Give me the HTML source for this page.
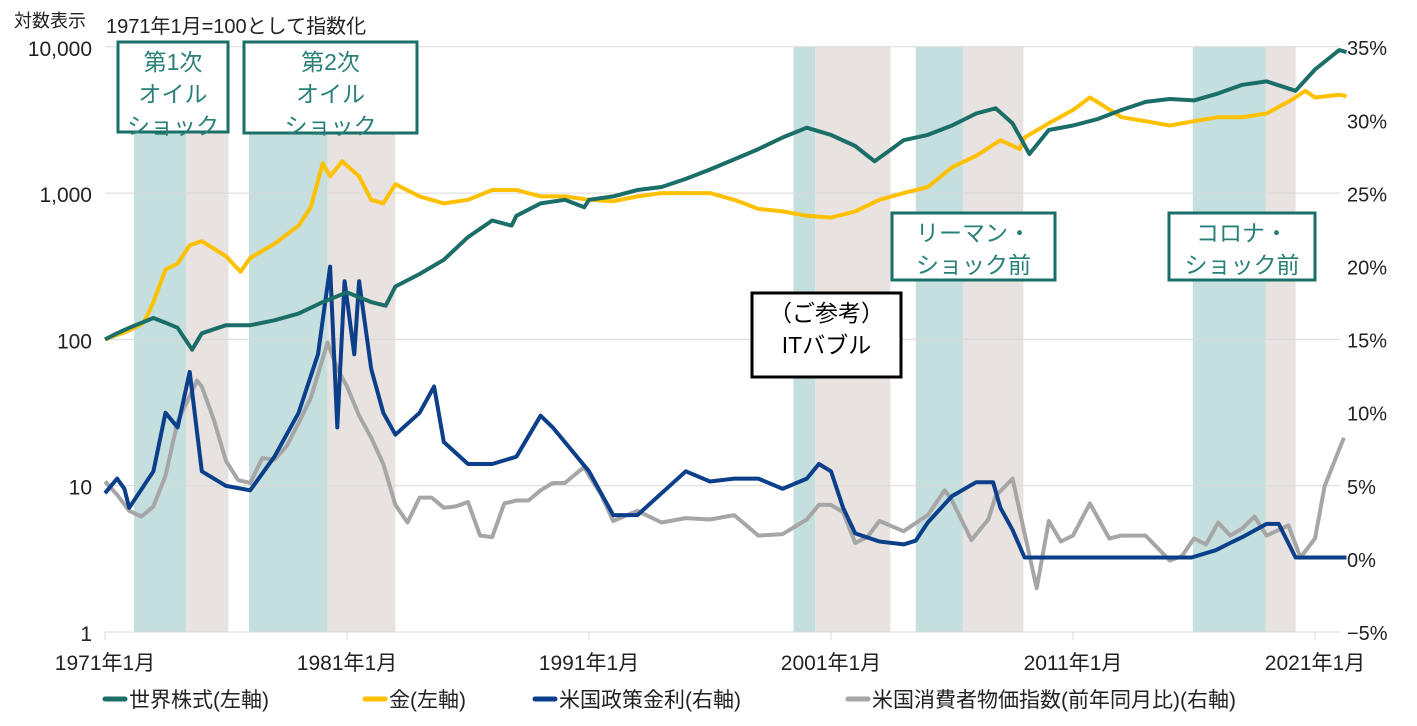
<!DOCTYPE html>
<html><head><meta charset="utf-8"><style>
body{margin:0;background:#fff;}
svg text{font-family:"Liberation Sans","Noto Sans CJK JP",sans-serif;}
</style></head><body>
<svg id="c" width="1417" height="721" viewBox="0 0 1417 721"></svg>
<script>
const bandStarts=[1972.2,1974.35,1976.95,1980.2,1999.45,2000.35,2004.5,2006.45,2015.95,2018.97];
const bandEnds=[1974.35,1976.1,1980.2,1983.0,2000.35,2003.45,2006.45,2008.95,2018.97,2020.2];
const bandKinds=["pre","post","pre","post","pre","post","pre","post","pre","post"];
const eqT=[1971,1971.5,1972,1973,1973.5,1974,1974.6,1975,1976,1977,1978,1979,1980,1981,1982,1982.6,1983,1984,1985,1986,1987,1987.8,1988,1989,1990,1990.8,1991,1992,1993,1994,1995,1996,1997,1998,1999,2000,2001,2002,2002.8,2003.5,2004,2005,2006,2007,2007.8,2008.5,2009.2,2010,2011,2012,2013,2014,2015,2016,2017,2018,2019,2020.2,2021,2022,2022.3];
const eqV=[100,110,120,140,130,120,85,110,125,125,135,150,180,210,180,170,230,280,350,500,650,600,700,850,900,800,900,950,1050,1100,1250,1450,1700,2000,2400,2800,2500,2100,1650,2000,2300,2500,2900,3500,3800,3000,1850,2700,2900,3200,3700,4200,4400,4300,4800,5500,5800,5000,7000,9500,9200];
const gT=[1971,1972,1972.6,1973,1973.5,1974,1974.5,1975,1976,1976.6,1977,1978,1979,1979.5,1980,1980.3,1980.8,1981.5,1982,1982.5,1983,1984,1985,1986,1987,1988,1989,1990,1991,1992,1993,1994,1995,1996,1997,1998,1999,2000,2001,2002,2003,2004,2005,2006,2007,2008,2008.8,2009,2010,2011,2011.7,2012,2013,2014,2015,2016,2017,2018,2019,2020,2020.6,2021,2022,2022.3];
const gV=[100,115,130,180,300,330,440,470,370,290,360,450,600,800,1600,1300,1650,1300,900,850,1150,950,850,900,1050,1050,950,950,900,880,950,1000,1000,1000,900,780,750,700,680,750,900,1000,1100,1500,1800,2300,2000,2400,3000,3700,4500,4200,3300,3100,2900,3100,3300,3300,3500,4300,5000,4500,4700,4600];
const fT=[1971,1971.5,1971.8,1972,1973,1973.5,1974,1974.5,1975,1976,1977,1978,1979,1979.8,1980.3,1980.6,1980.9,1981.3,1981.5,1982,1982.5,1983,1984,1984.6,1985,1986,1987,1988,1989,1989.5,1990,1991,1992,1993,1994,1995,1996,1997,1998,1999,2000,2000.5,2001,2001.5,2002,2003,2004,2004.5,2005,2006,2007,2007.7,2008,2008.5,2009,2015.9,2016.9,2017.5,2018,2019,2019.5,2020.2,2022.3];
const fV=[4.5,5.5,4.8,3.5,6,10,9,12.8,6,5,4.7,7,10,14,20,9,19,14,19,13,10,8.5,10,11.8,8,6.5,6.5,7,9.8,9,8,6,3,3,4.5,6,5.3,5.5,5.5,4.8,5.5,6.5,6,3.5,1.75,1.2,1,1.25,2.5,4.3,5.25,5.25,3.5,2,0.1,0.1,0.6,1.1,1.5,2.4,2.4,0.1,0.1];
const cT=[1971,1971.5,1972,1972.5,1973,1973.5,1974,1974.8,1975,1975.5,1976,1976.5,1977,1977.5,1978,1978.5,1979,1979.5,1980.2,1980.6,1981,1981.5,1982,1982.5,1983,1983.5,1984,1984.5,1985,1985.5,1986,1986.5,1987,1987.5,1988,1988.5,1989,1989.5,1990,1990.8,1991,1991.5,1992,1993,1994,1995,1996,1997,1998,1999,2000,2000.5,2001,2001.5,2002,2002.5,2003,2004,2005,2005.7,2006,2006.8,2007.5,2007.8,2008.5,2009.5,2010,2010.5,2011,2011.7,2012,2012.5,2013,2014,2015,2015.5,2016,2016.5,2017,2017.5,2018,2018.5,2019,2019.9,2020.4,2021,2021.4,2022,2022.2];
const cV=[5.3,4.4,3.3,2.9,3.6,5.7,9.4,12.2,11.8,9.5,6.7,5.4,5.2,6.9,6.8,7.7,9.3,11,14.8,13,11.8,9.8,8.3,6.5,3.7,2.5,4.2,4.2,3.5,3.6,3.9,1.6,1.5,3.8,4,4,4.7,5.2,5.2,6.3,5.7,4.4,2.6,3.3,2.5,2.8,2.7,3,1.6,1.7,2.7,3.7,3.7,3.2,1.1,1.5,2.6,1.9,3,4.7,4,1.3,2.7,4.3,5.5,-2,2.6,1.2,1.6,3.8,2.9,1.4,1.6,1.6,-0.1,0.2,1.4,1,2.5,1.6,2.1,2.9,1.6,2.3,0.1,1.4,5,7.5,8.3];
const leftTicks=["1","10","100","1,000","10,000"];
const rightTicks=["−5%","0%","5%","10%","15%","20%","25%","30%","35%"];
const xTickLabels=["1971年1月","1981年1月","1991年1月","2001年1月","2011年1月","2021年1月"];

const NS="http://www.w3.org/2000/svg",svg=document.getElementById('c');
const X0=105,PX=24.2,Y1=632,DEC=146.3,R0=559,RP=14.62;
const xs=t=>X0+(t-1971)*PX, yl=v=>Y1-Math.log10(v)*DEC, yr=v=>R0-v*RP;
function mk(tag,a,p){const e=document.createElementNS(NS,tag);for(const k in a)e.setAttribute(k,a[k]);(p||svg).appendChild(e);return e;}
const gb=mk('g',{});


bandStarts.forEach((s,i)=>{const r=mk('rect',{x:xs(s),y:47,width:xs(bandEnds[i])-xs(s),height:585,fill:bandKinds[i]=="pre"?"#c5dfdf":"#e8e2e0"},gb);

});
leftTicks.forEach((l,i)=>{const y=Y1-i*DEC;
if(i>0){const g=mk('line',{x1:X0,x2:1340,y1:y,y2:y,stroke:'#d9d9d9','stroke-width':1});}
const t=mk('text',{x:92,y:y+9,'text-anchor':'end','font-size':21,fill:'#222'});t.textContent=l;

});
rightTicks.forEach((l,i)=>{const t=mk('text',{x:1347,y:Y1-i*73.1+8,'font-size':20,fill:'#222'});t.textContent=l;

});
const ax=mk('line',{x1:X0,x2:1340,y1:Y1,y2:Y1,stroke:'#d9d9d9','stroke-width':1});


xTickLabels.forEach((l,i)=>{const x=xs(1971+i*10);mk('line',{x1:x,x2:x,y1:Y1,y2:Y1+8,stroke:'#d9d9d9'});
const t=mk('text',{x:x,y:670,'text-anchor':'middle','font-size':21,fill:'#222'});t.textContent=l;

});
function line(T,V,yf,col,name){const d=T.map((t,i)=>(i?'L':'M')+xs(t).toFixed(1)+','+yf(V[i]).toFixed(1)).join('');
const p=mk('path',{d:d,fill:'none',stroke:col,'stroke-width':4,'stroke-linejoin':'round'});

}
line(cT,cV,yr,'#a6a6a6','cpi-line');
line(fT,fV,yr,'#0b3f8a','fed-rate-line');
line(gT,gV,yl,'#ffc000','gold-line');
line(eqT,eqV,yl,'#1b6e68','world-equity-line');
function box(x,y,w,h,lines,col,tcol,name){const g=mk('g',{});


mk('rect',{x:x,y:y,width:w,height:h,fill:'#fff',stroke:col,'stroke-width':3},g);
lines.forEach((l,i)=>{const t=mk('text',{x:x+w/2,y:y+28+i*32,'text-anchor':'middle','font-size':23,fill:tcol},g);t.textContent=l;});}
box(118,42,110,90,["第1次","オイル","ショック"],'#1a7068','#2a8078','oil-shock-1-label');
box(244,42,173,91,["第2次","オイル","ショック"],'#1a7068','#2a8078','oil-shock-2-label');
box(892,213,163,67,["リーマン・","ショック前"],'#1a7068','#2a8078','lehman-label');
box(1169,213,146,67,["コロナ・","ショック前"],'#1a7068','#2a8078','corona-label');
box(752,293,149,84,["（ご参考）","ITバブル"],'#000','#000','it-bubble-label');
const t1=mk('text',{x:14,y:27,'font-size':18,fill:'#222'});t1.textContent="対数表示";


const t2=mk('text',{x:106,y:33,'font-size':20,fill:'#222'});t2.textContent="1971年1月=100として指数化";


const leg=[["世界株式(左軸)",'#1b6e68',105],["金(左軸)",'#ffc000',365],["米国政策金利(右軸)",'#0b3f8a',535],["米国消費者物価指数(前年同月比)(右軸)",'#a6a6a6',848]];
leg.forEach(l=>{const g=mk('g',{});


mk('line',{x1:l[2],x2:l[2]+20,y1:699,y2:699,stroke:l[1],'stroke-width':5,'stroke-linecap':'round'},g);
const t=mk('text',{x:l[2]+24,y:707,'font-size':21,fill:'#222'},g);t.textContent=l[0];});
</script>
</body></html>
